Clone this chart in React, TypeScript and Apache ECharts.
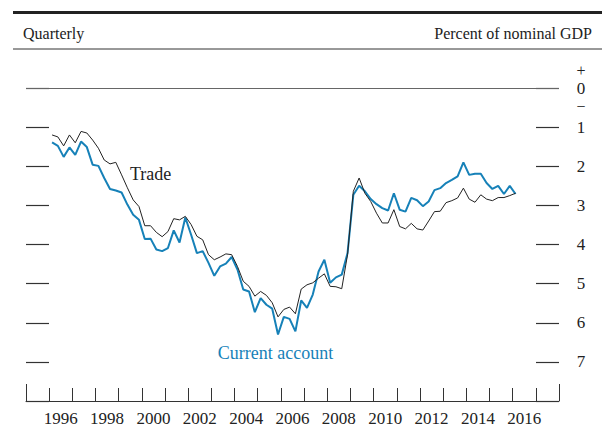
import React, { useEffect, useRef } from "react";
import * as echarts from "echarts";

const yearCategories = [
  "1995", "1996", "1997", "1998", "1999", "2000", "2001", "2002", "2003", "2004", "2005", "2006",
  "2007", "2008", "2009", "2010", "2011", "2012", "2013", "2014", "2015", "2016", "2017",
];

const firstYear = 1996;

const tradeValues = [
  1.2, 1.25, 1.48, 1.2, 1.4, 1.11, 1.15, 1.33, 1.54, 1.84,
  1.94, 1.9, 2.22, 2.55, 2.86, 3.03, 3.52, 3.52, 3.69, 3.8,
  3.67, 3.34, 3.37, 3.28, 3.49, 3.79, 3.88, 4.26, 4.39, 4.32,
  4.24, 4.26, 4.56, 4.94, 5.07, 5.32, 5.2, 5.3, 5.49, 5.85,
  5.66, 5.6, 5.77, 5.14, 5.03, 4.98, 4.86, 4.75, 5.07, 5.08,
  5.13, 4.26, 2.64, 2.3, 2.69, 2.9, 3.2, 3.45, 3.45, 3.11,
  3.54, 3.6, 3.46, 3.6, 3.63, 3.4, 3.16, 3.15, 2.93, 2.88,
  2.81, 2.56, 2.84, 2.92, 2.73, 2.84, 2.88, 2.8, 2.8, 2.75,
  2.69,
];

const currentAccountValues = [
  1.39, 1.48, 1.76, 1.52, 1.71, 1.37, 1.51, 1.96, 1.99, 2.3,
  2.58, 2.62, 2.67, 2.98, 3.24, 3.37, 3.86, 3.85, 4.13, 4.17,
  4.09, 3.64, 3.95, 3.31, 3.75, 4.22, 4.17, 4.47, 4.8, 4.56,
  4.49, 4.32, 4.64, 5.15, 5.2, 5.73, 5.37, 5.54, 5.64, 6.3,
  5.85, 5.9, 6.22, 5.43, 5.62, 5.28, 4.69, 4.39, 4.98, 4.84,
  4.77, 4.22, 2.73, 2.5, 2.64, 2.84, 2.97, 3.07, 3.13, 2.69,
  3.11, 3.16, 2.81, 2.87, 3.02, 2.9, 2.61, 2.56, 2.43, 2.35,
  2.26, 1.9, 2.22, 2.19, 2.19, 2.43, 2.58, 2.5, 2.71, 2.5,
  2.71,
];

const FONT = '"Liberation Serif", "Times New Roman", serif';
const BLUE = "#1681b8";
const INK = "#222";

function quarterTime(i: number) {
  return firstYear + Math.floor(i / 4) + (i % 4) * 0.25 + 0.125;
}

export default function App() {
  const ref = useRef<HTMLDivElement>(null);

  useEffect(() => {
    if (!ref.current) return;
    const chart = echarts.init(ref.current, null, { renderer: "svg" });
    const trade = tradeValues.map((v, i) => [quarterTime(i), v]);
    const ca = currentAccountValues.map((v, i) => [quarterTime(i), v]);

    chart.setOption({
      animation: false,
      backgroundColor: "#fff",
      textStyle: { fontFamily: FONT },
      grid: { left: 26, right: 43, top: 88, bottom: 25, containLabel: false },
      xAxis: [
        {
          type: "category",
          position: "bottom",
          data: yearCategories,
          boundaryGap: true,
          axisLine: { show: true, onZero: false, lineStyle: { color: "#333", width: 1 } },
          axisTick: { show: true, inside: true, length: 13, interval: 0, alignWithLabel: false, lineStyle: { color: "#333", width: 1 } },
          axisLabel: {
            show: true,
            interval: 0,
            margin: 9,
            fontFamily: FONT,
            fontSize: 17,
            color: INK,
            formatter: (v: string) => (Number(v) % 2 === 0 ? v : ""),
          },
          splitLine: { show: false },
        },
        {
          type: "value",
          position: "bottom",
          min: 1995,
          max: 2018,
          axisLine: { show: false, onZero: false },
          axisTick: { show: true, inside: true, length: 17, customValues: [1995, 2018], lineStyle: { color: "#333", width: 1 } },
          axisLabel: { show: false },
          splitLine: { show: false },
        },
      ],
      yAxis: [
        {
          type: "value",
          position: "right",
          inverse: true,
          min: 0,
          max: 8,
          interval: 1,
          axisLine: { show: false, onZero: false },
          axisTick: { show: true, inside: true, length: 23, lineStyle: { color: "#333", width: 1.2 } },
          axisLabel: {
            show: true,
            margin: 22,
            align: "center",
            fontFamily: FONT,
            fontSize: 17,
            color: INK,
            formatter: (v: number) => (v === 0 ? "{s|+}\n{z|0}\n{s|\u2212}" : v === 8 ? "" : String(v)),
            rich: {
              s: { fontFamily: FONT, fontSize: 16, lineHeight: 19, color: INK, align: "center" },
              z: { fontFamily: FONT, fontSize: 17, lineHeight: 17, color: INK, align: "center" },
            },
          },
          splitLine: { show: false },
        },
        {
          type: "value",
          position: "left",
          inverse: true,
          min: 0,
          max: 8,
          interval: 1,
          axisLine: { show: false, onZero: false },
          axisTick: { show: true, inside: true, length: 23, lineStyle: { color: "#333", width: 1.2 } },
          axisLabel: { show: false },
          splitLine: { show: false },
        },
      ],
      series: [
        {
          name: "Current account",
          type: "line",
          xAxisIndex: 1,
          yAxisIndex: 0,
          data: ca,
          showSymbol: false,
          symbol: "none",
          lineStyle: { color: BLUE, width: 2 },
          z: 2,
          markLine: {
            silent: true,
            symbol: ["none", "none"],
            label: { show: false },
            lineStyle: { color: "#666", width: 1, type: "solid" },
            data: [{ yAxis: 0 }],
          },
        },
        {
          name: "Trade",
          type: "line",
          xAxisIndex: 1,
          yAxisIndex: 0,
          data: trade,
          showSymbol: false,
          symbol: "none",
          lineStyle: { color: INK, width: 1 },
          z: 3,
        },
      ],
      graphic: [
        { type: "line", shape: { x1: 13, y1: 12.5, x2: 602, y2: 12.5 }, style: { stroke: "#222", lineWidth: 3 } },
        { type: "line", shape: { x1: 13, y1: 49, x2: 602, y2: 49 }, style: { stroke: "#333", lineWidth: 1 } },
        {
          type: "text",
          x: 23,
          y: 33,
          style: { text: "Quarterly", font: `16px ${FONT}`, fill: INK, textAlign: "left", textVerticalAlign: "middle" },
        },
        {
          type: "text",
          x: 592,
          y: 33,
          style: { text: "Percent of nominal GDP", font: `16px ${FONT}`, fill: INK, textAlign: "right", textVerticalAlign: "middle" },
        },
        {
          type: "text",
          x: 130,
          y: 174,
          style: { text: "Trade", font: `18px ${FONT}`, fill: INK, textAlign: "left", textVerticalAlign: "middle" },
        },
        {
          type: "text",
          x: 275.5,
          y: 353,
          style: { text: "Current account", font: `18px ${FONT}`, fill: BLUE, textAlign: "center", textVerticalAlign: "middle" },
        },
      ],
    });

    return () => chart.dispose();
  }, []);

  return (
    <div
      ref={ref}
      style={{ position: "fixed", left: 0, top: 0, width: 602, height: 427, background: "#fff" }}
    />
  );
}
